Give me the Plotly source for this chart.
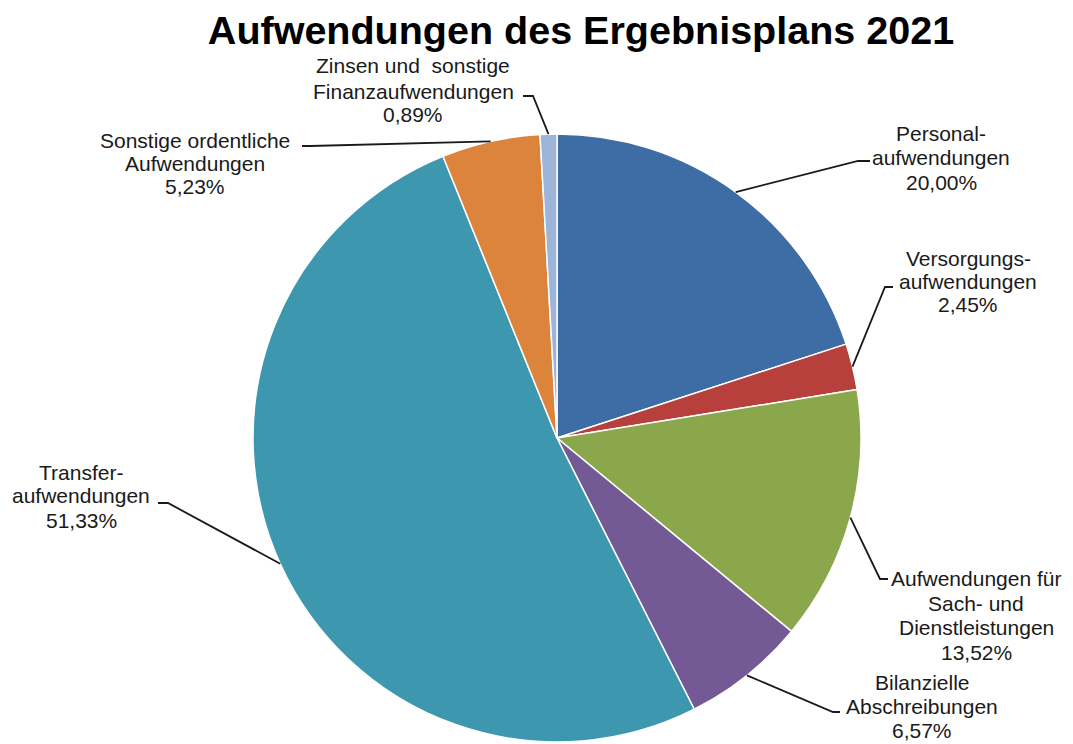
import math
import plotly.graph_objects as go

W, H = 1073, 744
OFF = 8  # default page body margin
WF, HF = W - OFF, H - OFF

categories = [
    "Personalaufwendungen",
    "Versorgungsaufwendungen",
    "Aufwendungen für Sach- und Dienstleistungen",
    "Bilanzielle Abschreibungen",
    "Transferaufwendungen",
    "Sonstige ordentliche Aufwendungen",
    "Zinsen und sonstige Finanzaufwendungen",
]
values = [20.00, 2.45, 13.52, 6.57, 51.33, 5.23, 0.89]
label_lines = [
    ["Personal-", "aufwendungen", "20,00%"],
    ["Versorgungs-", "aufwendungen", "2,45%"],
    ["Aufwendungen für", "Sach- und", "Dienstleistungen", "13,52%"],
    ["Bilanzielle", "Abschreibungen", "6,57%"],
    ["Transfer-", "aufwendungen", "51,33%"],
    ["Sonstige ordentliche", "Aufwendungen", "5,23%"],
    ["Zinsen und  sonstige", "Finanzaufwendungen", "0,89%"],
]
colors = ["#3E6DA6", "#B7403C", "#8AA74C", "#735A94", "#3D97AE", "#DC843B", "#9DB4D9"]

# layout (pixels in the window)
CX, CY, R = 557, 438, 304
label_pos = [  # x center, y of each line
    (941, [133, 158, 182]),
    (968, [258, 282, 305]),
    (976, [578, 603, 627, 652]),
    (922, [682, 706, 730]),
    (81, [472, 496, 520]),
    (195, [140, 164, 187]),
    (413, [66, 91, 115]),
]
leader_pts = [  # text-side points of leader polylines (pixels)
    [(870, 161), (858, 161)],
    [(893, 287), (885, 287)],
    [(888, 579), (880, 579)],
    [(840, 712), (833, 712)],
    [(158, 503), (168, 503)],
    [(302, 146), (310, 146)],
    [(523, 96), (533, 96)],
]


def px(x):
    return (x - OFF) / WF


def py(y):
    return 1 - (y - OFF) / HF


fig = go.Figure(
    go.Pie(
        labels=categories,
        values=values,
        sort=False,
        direction="clockwise",
        rotation=0,
        marker=dict(colors=colors, line=dict(color="white", width=1.5)),
        textinfo="none",
        hoverinfo="label+percent",
        showlegend=False,
        domain=dict(x=[px(CX - R), px(CX + R)], y=[py(CY + R), py(CY - R)]),
    )
)

total = sum(values)
cum = 0.0
shapes = []
annotations = []
for i, v in enumerate(values):
    mid = (cum + v / 2) / total * 2 * math.pi
    cum += v
    ex = CX + R * math.sin(mid)
    ey = CY - R * math.cos(mid)
    pts = leader_pts[i] + [(ex, ey)]
    path = "M " + " L ".join(f"{px(x):.5f},{py(y):.5f}" for x, y in pts)
    shapes.append(dict(type="path", path=path, xref="paper", yref="paper",
                       line=dict(color="#1a1a1a", width=1.8)))
    lx, lys = label_pos[i]
    for text, ly in zip(label_lines[i], lys):
        annotations.append(dict(
            text=text, x=px(lx), y=py(ly), xref="paper", yref="paper",
            xanchor="center", yanchor="middle", showarrow=False,
            font=dict(family="Liberation Sans, Arial, sans-serif", size=21, color="#1a1a1a"),
        ))

fig.update_layout(
    width=WF, height=HF,
    margin=dict(l=0, r=0, t=0, b=0),
    paper_bgcolor="white",
    plot_bgcolor="white",
    title=dict(
        text="<b>Aufwendungen des Ergebnisplans 2021</b>",
        x=px(581), xanchor="center",
        y=py(30), yanchor="middle", yref="container",
        font=dict(family="Liberation Sans, Arial, sans-serif", size=39.5, color="#000000"),
    ),
    shapes=shapes,
    annotations=annotations,
)

fig.write_html("out.html")
